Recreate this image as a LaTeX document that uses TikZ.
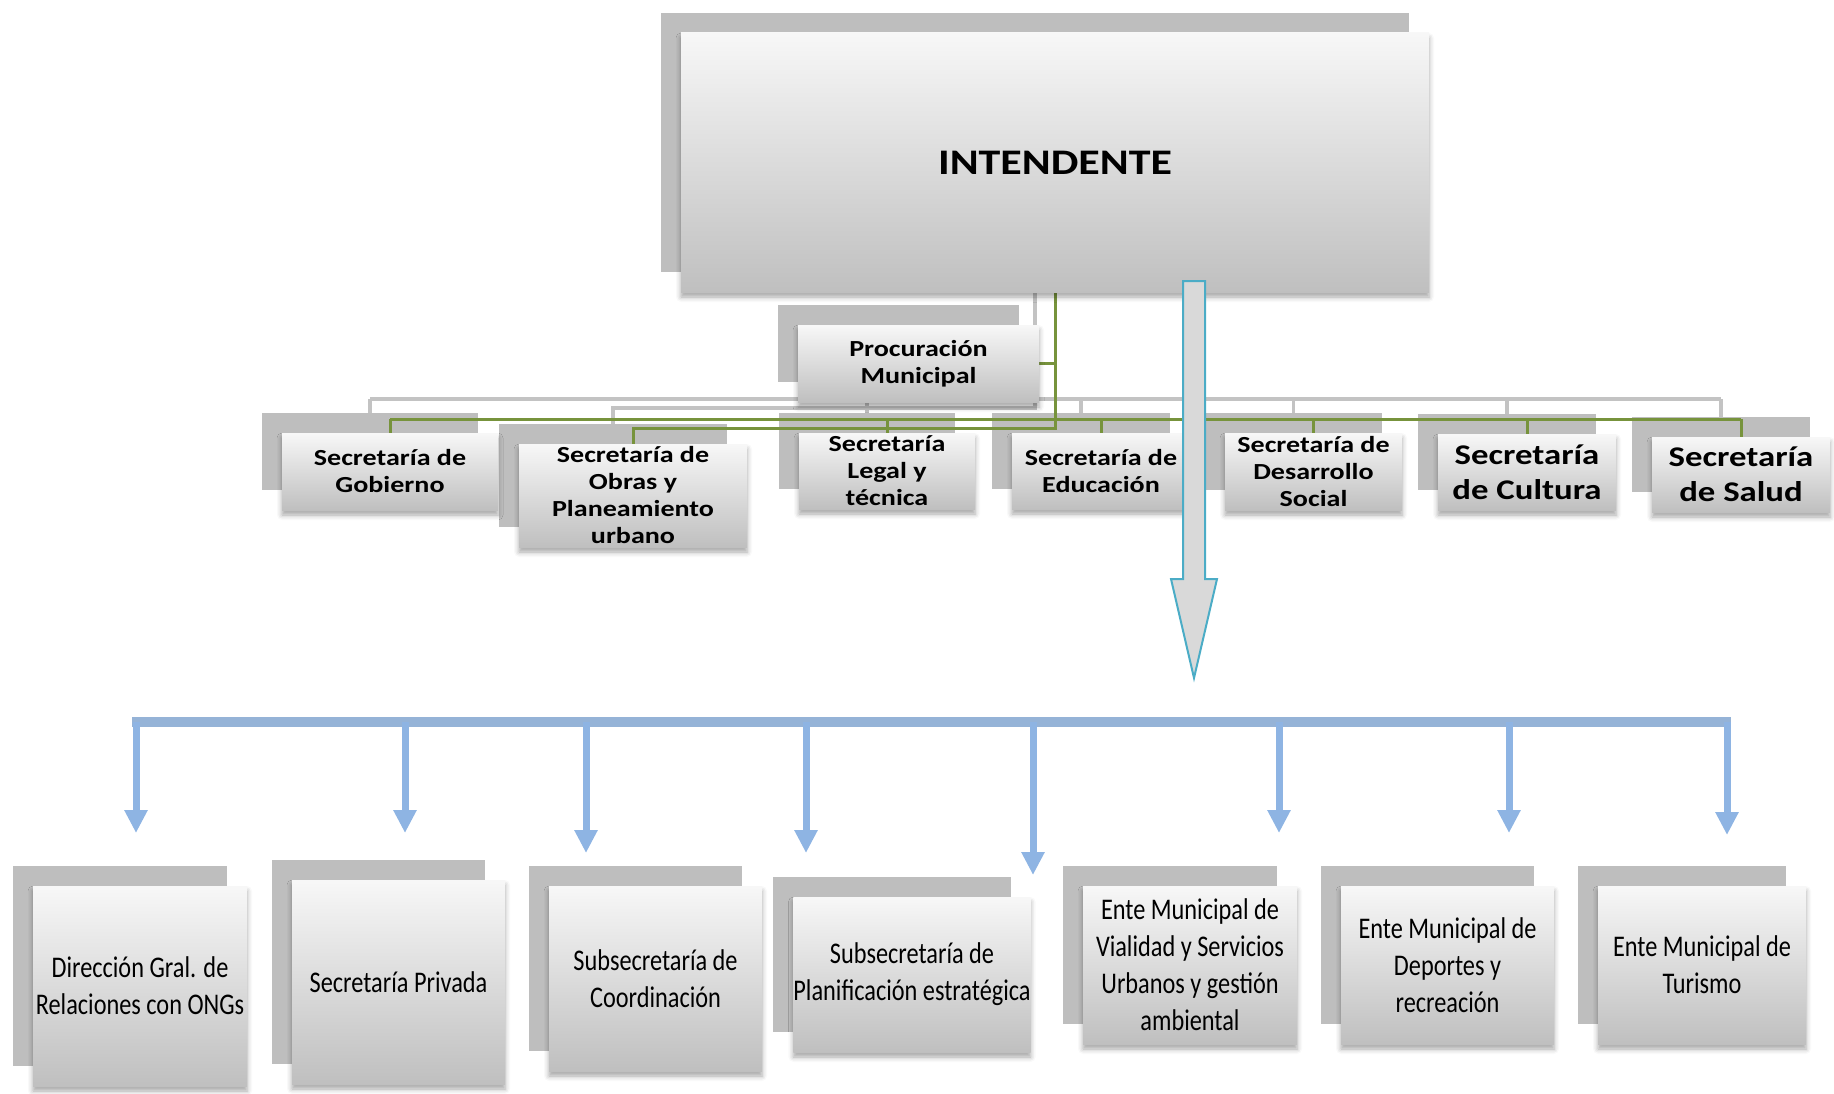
\documentclass[tikz,border=0pt]{standalone}
\usepackage{fontspec}
\setmainfont{Carlito}
\newfontfamily\anchafont{Carlito}[FakeStretch=1.22]
\newfontfamily\angostafont{Carlito}[FakeStretch=0.81]
\usetikzlibrary{calc,arrows.meta,shadows.blur}

\definecolor{verdelinea}{HTML}{77933C}
\definecolor{grislinea}{HTML}{C3C3C3}
\definecolor{grissombra}{HTML}{BEBEBE}
\definecolor{azulbus}{HTML}{95B3D7}
\definecolor{azulflecha}{HTML}{8EB4E3}
\definecolor{turquesa}{HTML}{4BACC6}
\definecolor{grisflecha}{HTML}{D9D9D9}

\pgfdeclarelayer{lineasgris}
\pgfdeclarelayer{sombras}
\pgfdeclarelayer{lineasverde}
\pgfsetlayers{lineasgris,sombras,lineasverde,main}

\tikzset{
  caja/.style={rectangle, inner sep=0pt, align=center,
    top color=black!3, bottom color=black!25,
    blur shadow={shadow xshift=0pt, shadow yshift=-5pt, shadow blur radius=5pt, shadow opacity=35}},
  cajaarriba/.style={caja, font=\anchafont\bfseries\fontsize{23}{27}\selectfont},
  cajagrande/.style={caja, font=\anchafont\bfseries\fontsize{28.5}{35}\selectfont},
  cajaabajo/.style={caja, font=\angostafont\fontsize{30}{37}\selectfont},
  sombra/.style={fill=grissombra},
  busazul/.style={azulbus, line width=10pt},
  bajada/.style={azulflecha, line width=7pt, -{Triangle[length=23pt,width=22pt]}},
}

\begin{document}
\begin{tikzpicture}[x=1pt,y=-1pt]
  \useasboundingbox (0,0) rectangle (1834,1094);

  % intendente y secretarías
  \node[caja, font=\anchafont\bfseries\fontsize{36}{43}\selectfont,
        minimum width=748pt, minimum height=259pt] (intendente) at (1055,162.5) {INTENDENTE};
  \node[cajaarriba, minimum width=241pt, minimum height=77pt] (procu) at (918.5,363.5) {Procuración\\Municipal};
  \node[cajaarriba, minimum width=216pt, minimum height=77pt] (gob) at (390,471.5) {Secretaría de\\Gobierno};
  \node[cajaarriba, minimum width=228pt, minimum height=103pt] (obras) at (633,495.5) {Secretaría de\\Obras y\\Planeamiento\\urbano};
  \node[cajaarriba, minimum width=176pt, minimum height=76pt] (legal) at (887,471) {Secretaría\\Legal y\\técnica};
  \node[cajaarriba, minimum width=178pt, minimum height=76pt] (educ) at (1101,471) {Secretaría de\\Educación};
  \node[cajaarriba, minimum width=177pt, minimum height=77pt] (desa) at (1313.5,471.5) {Secretaría de\\Desarrollo\\Social};
  \node[cajagrande, minimum width=178pt, minimum height=76pt] (cult) at (1527,472) {Secretaría\\de Cultura};
  \node[cajagrande, minimum width=178pt, minimum height=75pt] (salud) at (1741,474.5) {Secretaría\\de Salud};

  % fila de abajo
  \node[cajaabajo, minimum width=214pt, minimum height=200pt] (ong) at (140,986) {Dirección Gral. de\\Relaciones con ONGs};
  \node[cajaabajo, minimum width=213pt, minimum height=204pt] (priv) at (398.5,982) {Secretaría Privada};
  \node[cajaabajo, minimum width=213pt, minimum height=185pt] (coord) at (655.5,978.5) {Subsecretaría de\\Coordinación};
  \node[cajaabajo, minimum width=236pt, minimum height=155pt] (plan) at (912,974.5) {Subsecretaría de\\Planificación estratégica};
  \node[cajaabajo, minimum width=214pt, minimum height=158pt] (vial) at (1190,965) {Ente Municipal de\\Vialidad y Servicios\\Urbanos y gestión\\ambiental};
  \node[cajaabajo, minimum width=213pt, minimum height=158pt] (dep) at (1447.5,965) {Ente Municipal de\\Deportes y\\recreación};
  \node[cajaabajo, minimum width=208pt, minimum height=158pt] (tur) at (1702,965) {Ente Municipal de\\Turismo};

  % sombras grises
  \begin{pgfonlayer}{sombras}
    \foreach \c in {intendente,procu,gob,obras,legal,educ,desa,cult,salud,ong,priv,coord,plan,vial,dep,tur}
      \fill[sombra] ($(\c.north west)+(-20,-20)$) rectangle ($(\c.south east)+(-20,-20)$);
  \end{pgfonlayer}

  % conectores
  \coordinate (busverde) at (0,419);
  \coordinate (busobras) at (0,428);
  \def\conectores{%
    \draw (intendente.south) -- (intendente.south |- busobras) -| (obras.north);
    \draw (procu.east) -- (procu.east -| intendente.south);
    \draw (gob.north |- busverde) -- (salud.north |- busverde);
    \foreach \c in {gob,legal,educ,desa,cult,salud}
      \draw (\c.north |- busverde) -- (\c.north);
  }
  \begin{pgfonlayer}{lineasgris}
    \begin{scope}[transform canvas={shift={(-20pt,20pt)}}, grislinea, line width=3.5pt]
      \conectores
    \end{scope}
  \end{pgfonlayer}
  \begin{pgfonlayer}{lineasverde}
    \begin{scope}[verdelinea, line width=3pt]
      \conectores
    \end{scope}
  \end{pgfonlayer}

  % flecha grande
  \coordinate (flecha-ini) at (1194,281);
  \coordinate (flecha-fin) at (1194,678);
  \filldraw[fill=grisflecha, draw=turquesa, line width=2pt]
    ($(flecha-ini)+(-11,0)$) -- ($(flecha-ini)+(11,0)$) -- ($(flecha-fin)+(11,-99)$)
    -- ($(flecha-fin)+(23,-99)$) -- (flecha-fin) -- ($(flecha-fin)+(-23,-99)$)
    -- ($(flecha-fin)+(-11,-99)$) -- cycle;

  % bus azul con flechas
  \coordinate (bus-izq) at (132,722);
  \coordinate (bus-der) at (1731,722);
  \draw[busazul] (bus-izq) -- (bus-der);
  \foreach \x/\y [count=\i] in {136/833,405/833,586/853,806/853,1033/875,1279/833,1509/833,1727/835} {
    \coordinate (punta\i) at (\x,\y);
    \draw[bajada] (punta\i |- bus-izq) -- (punta\i);
  }
\end{tikzpicture}
\end{document}
